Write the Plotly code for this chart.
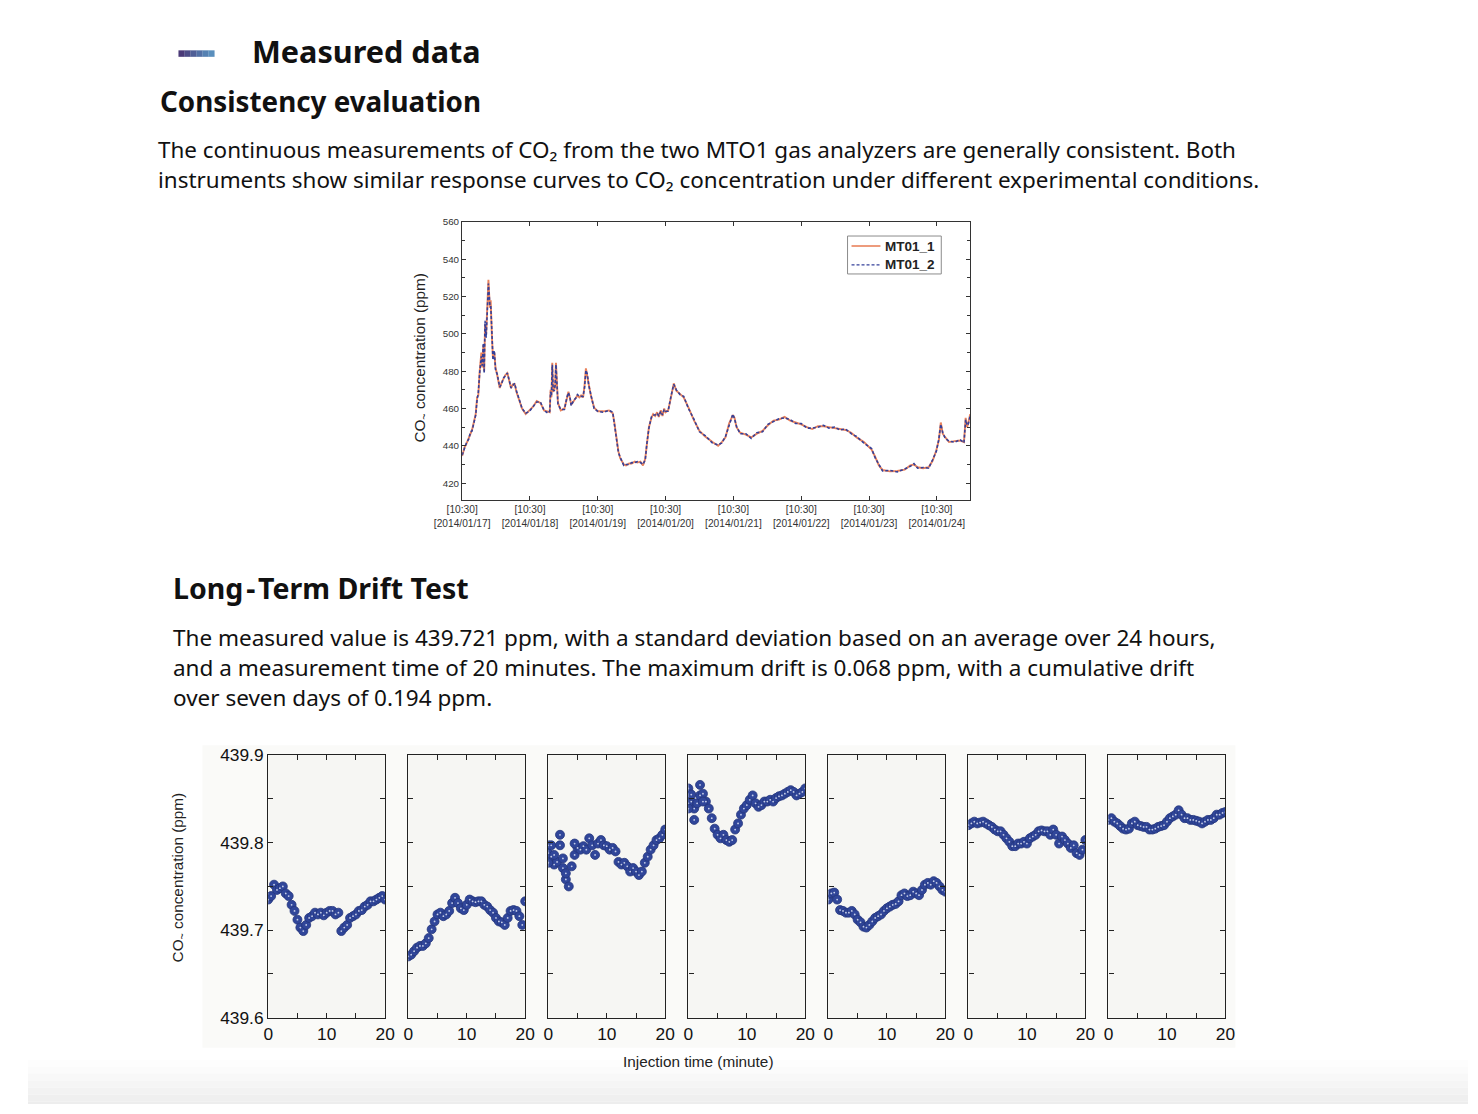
import plotly.graph_objects as go
import pandas as pd

W, H = 1478, 1114
# the photographed page appears slightly scaled/offset; positions below are given in
# picture pixels and mapped back to page pixels
AX, BX, AY, BY = 0.9771, 25.1, 0.9837, 8.6
FS = 1 / 0.98


def px(x):
    return min(1.0, max(0.0, ((x - BX) / AX) / W))


def py(y):
    return min(1.0, max(0.0, 1 - ((y - BY) / AY) / H))


# ---------------- data: continuous comparison (top chart) ----------------
start_time = "2014-01-17 10:30"
hours = [0, 0.8, 1.5, 2.3, 3.0, 3.5, 4.2, 4.8, 5.3, 5.7, 6.2, 6.5, 6.8, 7.1, 7.5, 7.8, 8.1, 8.5, 9.0, 9.3,
         9.8, 10.1, 10.5, 10.9, 11.4, 11.8, 12.4, 13.3, 14.0, 14.7, 15.3, 16.0, 16.6, 17.3, 18.0, 18.6, 19.2,
         19.9, 20.5, 21.2, 22.5, 23.8, 25.1, 26.4, 27.7, 29.0, 30.4, 31.0, 31.3, 31.6, 31.9, 32.2, 32.6, 32.9,
         33.2, 33.5, 33.9, 34.9, 36.2, 37.0, 37.6, 38.1, 38.6, 39.5, 40.2, 40.8, 41.5, 42.1, 42.8, 43.3, 43.8,
         44.3, 44.8, 45.7, 46.7, 48.0, 50.0, 52.0, 53.3, 53.9, 54.6, 55.3, 55.9, 57.2, 58.0, 59.1, 60.0, 61.1,
         62.0, 63.1, 64.0, 64.8, 65.4, 66.1, 67.0, 67.6, 68.3, 69.0, 69.6, 70.3, 70.9, 71.5, 72.0, 72.9, 73.9,
         74.4, 74.9, 75.8, 77.1, 78.4, 80.1, 82.1, 84.0, 86.0, 88.6, 90.6, 91.9, 93.2, 94.5, 95.8, 96.4, 97.1,
         98.4, 100.4, 102.3, 104.3, 106.3, 108.2, 110.2, 112.1, 114.1, 116.1, 118.0, 120.0, 122.0, 123.9,
         125.9, 127.9, 129.8, 131.8, 133.7, 135.7, 137.7, 139.6, 142.2, 144.9, 146.2, 147.5, 148.8, 151.4,
         154.0, 156.6, 158.6, 159.9, 161.2, 163.2, 165.1, 166.5, 167.8, 168.7, 169.4, 170.1, 171.0, 172.3,
         174.3, 176.3, 177.6, 178.2, 178.7, 179.1, 179.8]
mt01_1 = [434.5, 439, 441, 444, 447, 448.5, 453, 457, 466, 467, 480, 484, 490, 482, 494, 480, 505, 500, 520, 529,
          514, 518, 500, 487, 490, 482, 478, 471, 474, 476, 478, 479, 475, 471, 473, 473, 469,
          466, 463, 460, 457, 459, 461, 464, 463, 459, 458, 458, 470, 466, 484.5, 469, 470, 472,
          484.5, 470, 463, 459, 460, 465, 469, 466, 462, 464, 466, 467, 466, 467, 466, 472, 481.5,
          478, 473, 466, 460.5, 458.5, 458.5, 459, 457.5, 452, 443, 437, 433.5, 430, 429.5, 430.5, 430.5, 431.5,
          431, 431.5, 429.5, 433, 441, 450, 455, 457, 456, 458, 455.5, 459, 456, 460, 458, 459, 466,
          470, 473.5, 469.5, 468, 466, 460.5, 453.5, 448, 445, 442, 440, 442, 444.5, 452, 456.5, 455, 450,
          447, 446, 444.5, 446.5, 448, 451, 453.5, 454, 455.5, 453.5, 452.5, 451.5, 450, 449,
          450.5, 450.5, 450, 449.5, 449, 448.5, 447, 444.5, 442, 438, 434, 429.5, 427, 426.3,
          426.5, 427.2, 429.5, 430, 428.5, 428, 428.5, 432, 437.5, 443, 452.5, 446.5, 444.5, 442,
          442.5, 442.8, 442, 455, 450, 452, 457]
mt01_2 = [435, 438.5, 441.5, 443.5, 447.5, 448, 453.5, 456.5, 465, 468, 479, 486, 488, 483, 495, 479, 507, 498, 522, 527,
          516, 516, 502, 486, 491, 481, 478.5, 471.5, 473.5, 476.5, 477.5, 479, 475.5, 471, 472.5, 473.5, 469.5,
          465.5, 463.5, 460, 457.5, 458.5, 461, 463.5, 463.5, 459, 457.5, 458.5, 469, 467, 483.5, 470, 469.5, 472.5,
          483.5, 471, 462.5, 459.5, 459.5, 465.5, 468.5, 466.5, 461.5, 464.5, 465.5, 467.5, 466.5, 466.5, 466.5, 471, 480.5,
          478.5, 472.5, 466.5, 460, 458.5, 458, 459, 458, 451.5, 443.5, 436.5, 434, 429.5, 430, 430, 431, 431,
          431.5, 431, 430, 432.5, 441.5, 449.5, 455.5, 456.5, 456.5, 457.5, 456, 458.5, 456.5, 459.5, 458.5, 458.5, 466.5,
          469.5, 473, 470, 467.5, 466.5, 460, 454, 447.5, 445.5, 441.5, 440.5, 441.5, 445, 451.5, 457, 454.5, 450.5,
          446.5, 446.5, 444, 447, 447.5, 451.5, 453, 454.5, 455, 454, 452, 452, 449.5, 449.5,
          450, 451, 449.5, 450, 448.5, 449, 446.5, 445, 441.5, 438.5, 433.5, 430, 426.5, 426.8,
          426, 427.6, 429, 430.5, 428, 428.4, 428, 432.5, 437, 443.5, 451.5, 447, 444, 442.5,
          442, 443.2, 441.6, 454, 451, 451.5, 456]
series_names = ["MT01_1", "MT01_2"]
series_colors = ["#e9825c", "#34409a"]

day_ticks = ["2014-01-17 10:30", "2014-01-18 10:30", "2014-01-19 10:30", "2014-01-20 10:30",
             "2014-01-21 10:30", "2014-01-22 10:30", "2014-01-23 10:30", "2014-01-24 10:30"]
day_labels = ["[10:30]<br>[2014/01/17]", "[10:30]<br>[2014/01/18]", "[10:30]<br>[2014/01/19]",
              "[10:30]<br>[2014/01/20]", "[10:30]<br>[2014/01/21]", "[10:30]<br>[2014/01/22]",
              "[10:30]<br>[2014/01/23]", "[10:30]<br>[2014/01/24]"]
top_y_ticks = [420, 440, 460, 480, 500, 520, 540, 560]
top_y_minor = [410, 430, 450, 470, 490, 510, 530, 550]

# ---------------- data: long-term drift (seven daily panels) ----------------
minutes = [i * 0.5 for i in range(41)]
drift_day1 = [439.735, 439.739, 439.752, 439.746, 439.748, 439.750, 439.742, 439.739, 439.729, 439.722,
              439.712, 439.703, 439.699, 439.706, 439.714, 439.716, 439.720, 439.718, 439.720, 439.717,
              439.720, 439.722, 439.722, 439.718, 439.720, 439.699, 439.703, 439.706, 439.714, 439.716,
              439.718, 439.722, 439.723, 439.727, 439.729, 439.733, 439.733, 439.735, 439.737, 439.739, 439.735]
drift_day2 = [439.670, 439.672, 439.676, 439.680, 439.682, 439.682, 439.685, 439.691, 439.701, 439.710,
              439.718, 439.720, 439.716, 439.718, 439.722, 439.731, 439.737, 439.731, 439.725, 439.723,
              439.729, 439.735, 439.733, 439.732, 439.733, 439.733, 439.729, 439.727, 439.723, 439.720,
              439.714, 439.710, 439.709, 439.706, 439.714, 439.722, 439.723, 439.722, 439.716, 439.706, 439.733]
drift_day3 = [439.797, 439.784, 439.775, 439.778, 439.809, 439.782, 439.758, 439.750, 439.773, 439.786,
              439.794, 439.792, 439.796, 439.792, 439.805, 439.797, 439.786, 439.799, 439.803, 439.797,
              439.796, 439.792, 439.794, 439.790, 439.778, 439.775, 439.777, 439.773, 439.767, 439.771,
              439.767, 439.763, 439.767, 439.777, 439.784, 439.792, 439.797, 439.803, 439.805, 439.809, 439.815]
drift_day4 = [439.862, 439.847, 439.839, 439.845, 439.854, 439.856, 439.847, 439.839, 439.828, 439.816,
              439.809, 439.805, 439.809, 439.803, 439.801, 439.803, 439.815, 439.822, 439.832, 439.839,
              439.843, 439.849, 439.854, 439.845, 439.841, 439.843, 439.847, 439.847, 439.849, 439.847,
              439.851, 439.853, 439.854, 439.856, 439.858, 439.860, 439.858, 439.854, 439.856, 439.858, 439.862]
drift_day5 = [439.735, 439.742, 439.743, 439.735, 439.723, 439.722, 439.720, 439.720, 439.722, 439.718,
              439.712, 439.709, 439.704, 439.703, 439.706, 439.710, 439.714, 439.716, 439.718, 439.722,
              439.725, 439.727, 439.729, 439.730, 439.733, 439.740, 439.742, 439.739, 439.740, 439.744,
              439.742, 439.740, 439.746, 439.752, 439.754, 439.752, 439.756, 439.754, 439.750, 439.746, 439.744]
drift_day6 = [439.820, 439.822, 439.824, 439.822, 439.823, 439.824, 439.822, 439.820, 439.818, 439.815,
              439.813, 439.813, 439.809, 439.805, 439.801, 439.796, 439.796, 439.799, 439.799, 439.801,
              439.799, 439.805, 439.807, 439.809, 439.813, 439.814, 439.813, 439.813, 439.809, 439.815,
              439.809, 439.799, 439.807, 439.803, 439.799, 439.794, 439.797, 439.788, 439.786, 439.792, 439.803]
drift_day7 = [439.826, 439.828, 439.824, 439.822, 439.819, 439.816, 439.815, 439.816, 439.822, 439.824,
              439.820, 439.819, 439.818, 439.818, 439.815, 439.815, 439.816, 439.818, 439.819, 439.820,
              439.824, 439.828, 439.830, 439.832, 439.837, 439.832, 439.828, 439.828, 439.826, 439.826,
              439.825, 439.824, 439.822, 439.824, 439.826, 439.826, 439.828, 439.832, 439.832, 439.834, 439.835]
# extra scattered readings at the start of days 3 and 4
extra_day3_min = [0.0, 0.0, 0.5, 1.0, 2.0, 2.5, 3.0, 4.5]
extra_day3_val = [439.788, 439.777, 439.797, 439.786, 439.797, 439.771, 439.765, 439.799]
extra_day4_min = [0.0, 0.0, 1.0, 2.0, 2.5, 0.5]
extra_day4_val = [439.845, 439.839, 439.826, 439.866, 439.847, 439.855]
drift_days = [drift_day1, drift_day2, drift_day3, drift_day4, drift_day5, drift_day6, drift_day7]
extras = {2: (extra_day3_min, extra_day3_val), 3: (extra_day4_min, extra_day4_val)}
drift_y_ticks = [439.6, 439.7, 439.8, 439.9]
drift_y_labels = ["439.6", "439.7", "439.8", "439.9"]
drift_y_minor = [439.65, 439.75, 439.85]
drift_x_ticks = [0, 10, 20]
drift_x_labels = ["0", "10", "20"]
drift_x_minor = [5, 15]

times = [pd.Timestamp(start_time) + pd.Timedelta(hours=h) for h in hours]

fig = go.Figure()
fig.add_trace(go.Scatter(x=times, y=mt01_1, mode="lines", name=series_names[0], showlegend=False,
                         line=dict(color=series_colors[0], width=1.9), xaxis="x", yaxis="y"))
fig.add_trace(go.Scatter(x=times, y=mt01_2, mode="lines", name=series_names[1], showlegend=False,
                         line=dict(color=series_colors[1], width=1.6, dash="3px,2px"), xaxis="x", yaxis="y"))

layout = {}
layout["xaxis"] = dict(
    domain=[px(460.5), px(970)], anchor="y", type="date",
    range=["2014-01-17 10:30", "2014-01-24 22:18"],
    tickmode="array", tickvals=day_ticks, ticktext=day_labels,
    ticks="inside", ticklen=4, tickcolor="#333", mirror="ticks",
    showline=True, linecolor="#333", linewidth=1.2, showgrid=False, zeroline=False,
    tickfont=dict(family="Liberation Sans", size=10.2, color="#333"),
)
layout["yaxis"] = dict(
    domain=[py(499.5), py(221)], anchor="x", range=[410.9, 560],
    tickmode="array", tickvals=top_y_ticks,
    ticks="inside", ticklen=4, tickcolor="#333", mirror="ticks",
    minor=dict(tickmode="array", tickvals=top_y_minor, ticks="inside", ticklen=3, tickcolor="#333"),
    showline=True, linecolor="#333", linewidth=1.2, showgrid=False, zeroline=False,
    tickfont=dict(family="Liberation Sans", size=9.8, color="#333"),
)

shapes = []
annotations = []

# bottom panels (left edges in picture pixels)
panel_left0 = 266.0
panel_step = 140.45
panel_w = 117.3
for i, vals in enumerate(drift_days):
    k = i + 2
    xl = panel_left0 + i * panel_step
    xs = list(minutes)
    ys = list(vals)
    if i in extras:
        xs = xs + extras[i][0]
        ys = ys + extras[i][1]
    fig.add_trace(go.Scatter(x=xs, y=ys, mode="markers", showlegend=False,
                             marker=dict(size=9, color="#30469a", line=dict(color="#24367c", width=0.8)),
                             xaxis=f"x{k}", yaxis=f"y{k}"))
    fig.add_trace(go.Scatter(x=xs, y=ys, mode="markers", showlegend=False,
                             marker=dict(size=1.8, color="rgba(215,222,242,0.9)"),
                             xaxis=f"x{k}", yaxis=f"y{k}"))
    layout[f"xaxis{k}"] = dict(
        domain=[px(xl), px(xl + panel_w)], anchor=f"y{k}", range=[0, 20],
        tickmode="array", tickvals=drift_x_ticks, ticktext=drift_x_labels,
        ticks="inside", ticklen=5, tickwidth=1.3, tickcolor="#222", mirror="ticks",
        minor=dict(tickmode="array", tickvals=drift_x_minor, ticks="inside", ticklen=5, tickwidth=1.3,
                   tickcolor="#222"),
        showline=True, linecolor="#222", linewidth=1.4, showgrid=False, zeroline=False,
        tickfont=dict(family="Liberation Sans", size=17 * FS, color="#111"),
    )
    layout[f"yaxis{k}"] = dict(
        domain=[py(1018), py(755)], anchor=f"x{k}", range=[439.6, 439.9],
        tickmode="array", tickvals=drift_y_ticks, ticktext=drift_y_labels,
        ticks="inside", ticklen=5, tickwidth=1.3, tickcolor="#222", mirror="ticks",
        minor=dict(tickmode="array", tickvals=drift_y_minor, ticks="inside", ticklen=5, tickwidth=1.3,
                   tickcolor="#222"),
        showline=True, linecolor="#222", linewidth=1.4, showgrid=False, zeroline=False,
        showticklabels=(i == 0),
        tickfont=dict(family="Liberation Sans", size=17 * FS, color="#111"),
    )

# light background behind the drift panels
shapes.append(dict(type="rect", xref="paper", yref="paper", x0=px(200), x1=px(1236), y0=py(1048), y1=py(745),
                   fillcolor="#fafaf8", line=dict(width=0), layer="below"))
for i in range(7):
    xl = panel_left0 + i * panel_step
    shapes.append(dict(type="rect", xref="paper", yref="paper", x0=px(xl), x1=px(xl + panel_w),
                       y0=py(1018), y1=py(755), fillcolor="#f6f6f3", line=dict(width=0), layer="below"))

# bottom grey gradient band
band_cols = ["#fdfdfd", "#fbfbfb", "#f8f8f8", "#f5f5f5", "#f2f2f2", "#efefef", "#ededed", "#ebebeb"]
for j, c in enumerate(band_cols):
    y0 = 1060 + j * 7
    shapes.append(dict(type="rect", xref="paper", yref="paper", x0=0, x1=1, y0=py(y0 + 7 if j < 7 else 1120),
                       y1=py(y0), fillcolor=c, line=dict(width=0), layer="below"))

# gradient bar decoration
bar_cols = ["#4b3a78", "#4d4c87", "#4f5e96", "#5270a5", "#5581b2", "#5a8fbd"]
for j, c in enumerate(bar_cols):
    x0 = 176 + j * 6
    shapes.append(dict(type="rect", xref="paper", yref="paper", x0=px(x0), x1=px(x0 + 6.2),
                       y0=py(55.5), y1=py(49), fillcolor=c, line=dict(width=0)))

# legend box (MATLAB style) for the top chart
shapes.append(dict(type="rect", xref="paper", yref="paper", x0=px(847), x1=px(941), y0=py(273), y1=py(235),
                   fillcolor="white", line=dict(color="#8c8c8c", width=1)))
shapes.append(dict(type="line", xref="paper", yref="paper", x0=px(851), x1=px(880), y0=py(245), y1=py(245),
                   line=dict(color=series_colors[0], width=1.6)))
shapes.append(dict(type="line", xref="paper", yref="paper", x0=px(851), x1=px(880), y0=py(264), y1=py(264),
                   line=dict(color=series_colors[1], width=1.2, dash="3px,2px")))

TXT = "Noto Sans"


def add_text(x, y, text, size, bold=False, family=TXT, color="#111", angle=0, xanchor="left"):
    annotations.append(dict(
        x=px(x), y=py(y), xref="paper", yref="paper", xanchor=xanchor, yanchor="middle",
        text=(f"<b>{text}</b>" if bold else text), showarrow=False, textangle=angle,
        font=dict(family=family, size=size, color=color),
    ))


add_text(248, 50, "Measured data", 30.6, bold=True)
add_text(155, 100, "Consistency evaluation", 27.8, bold=True)
add_text(153, 148, "The continuous measurements of CO₂ from the two MTO1 gas analyzers are generally consistent. Both", 22.45)
add_text(153, 178, "instruments show similar response curves to CO₂ concentration under different experimental conditions.", 22.45)
add_text(169, 588, "Long\u200a-\u200aTerm Drift Test", 28.5, bold=True)
add_text(169, 637, "The measured value is 439.721 ppm, with a standard deviation based on an average over 24 hours,", 22.5)
add_text(169, 667, "and a measurement time of 20 minutes. The maximum drift is 0.068 ppm, with a cumulative drift", 22.5)
add_text(169, 697, "over seven days of 0.194 ppm.", 22.5)

add_text(883, 245, series_names[0], 13.5, bold=True, family="Liberation Sans", color="#222")
add_text(883, 264, series_names[1], 13.5, bold=True, family="Liberation Sans", color="#222")

add_text(419, 357, "CO<sub>~</sub> concentration (ppm)", 15.3, family="Liberation Sans", color="#222",
         angle=-90, xanchor="center")
add_text(176, 877, "CO<sub>~</sub> concentration (ppm)", 15.3, family="Liberation Sans", color="#222",
         angle=-90, xanchor="center")
add_text(697, 1062, "Injection time (minute)", 15.3, family="Liberation Sans", color="#222",
         xanchor="center")

fig.update_layout(
    width=W, height=H, autosize=False,
    margin=dict(l=0, r=0, t=0, b=0, pad=0),
    paper_bgcolor="white", plot_bgcolor="white",
    showlegend=False,
    shapes=shapes, annotations=annotations,
    **layout,
)

fig.write_html(
    "out.html",
    config={"displayModeBar": False},
    post_script=(
        "document.documentElement.style.margin='0';document.body.style.margin='0';"
        "document.body.style.padding='0';document.body.style.overflow='hidden';"
        "var gd=document.getElementById('{plot_id}');gd.style.position='fixed';"
        "gd.style.left='0px';gd.style.top='0px';"
    ),
)
